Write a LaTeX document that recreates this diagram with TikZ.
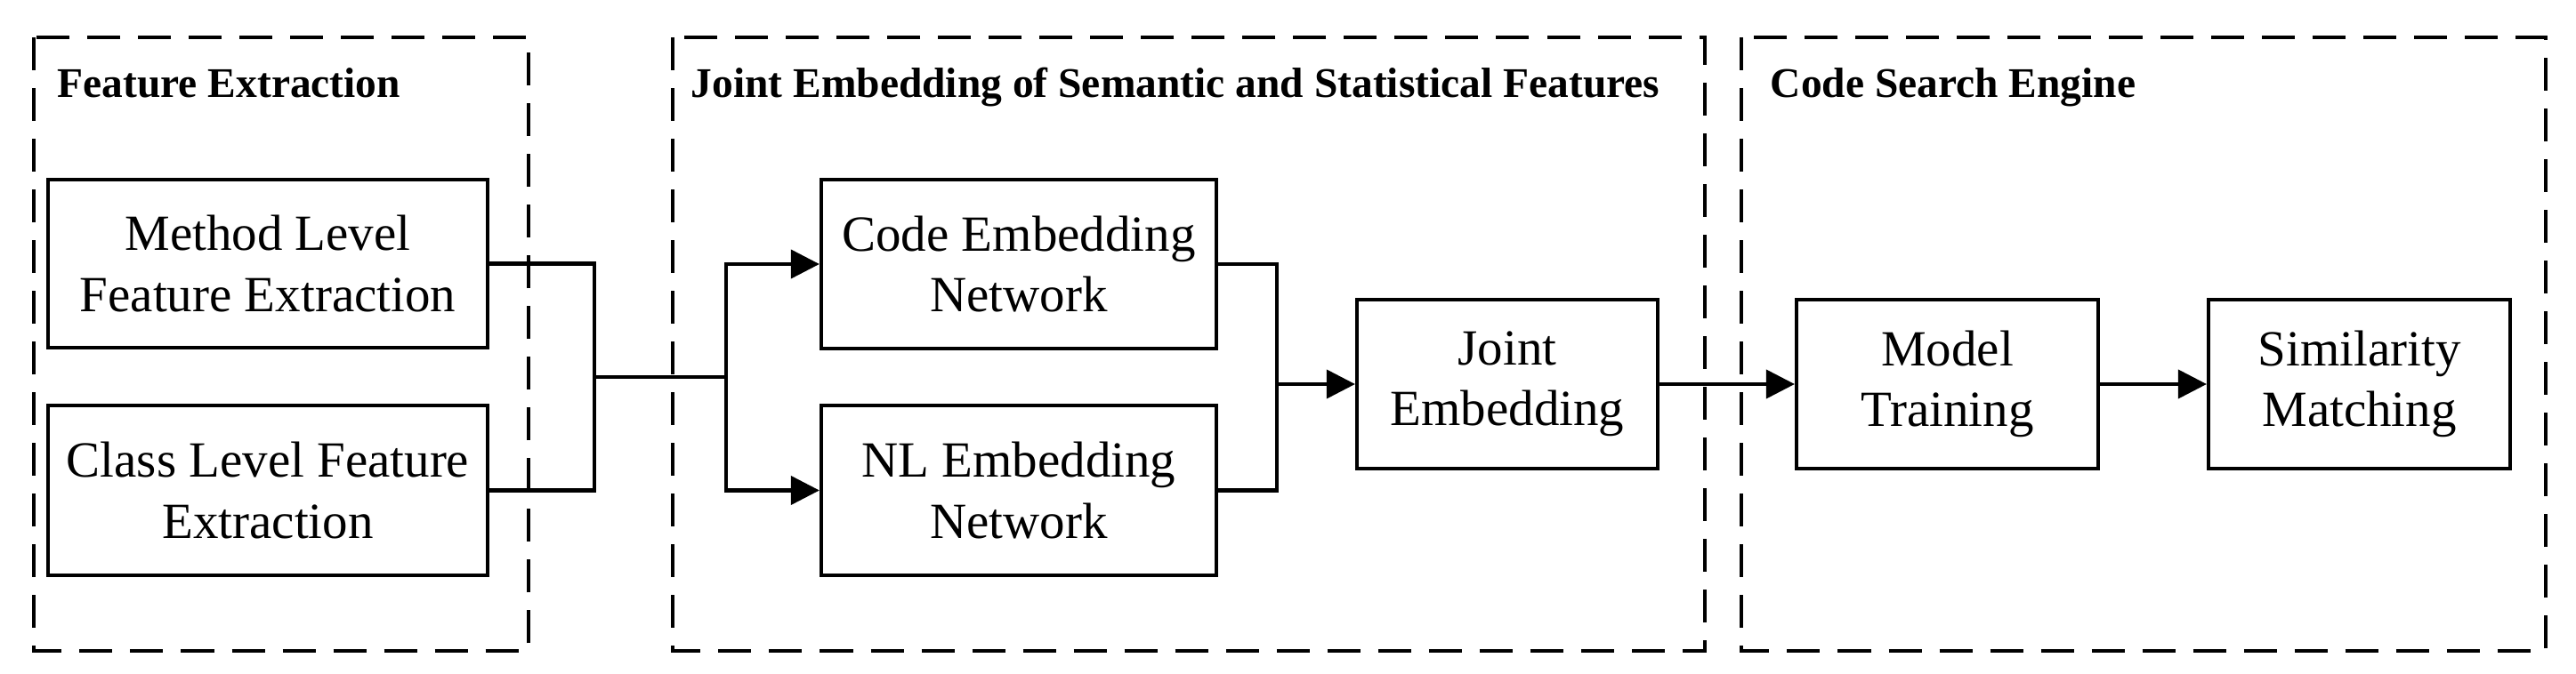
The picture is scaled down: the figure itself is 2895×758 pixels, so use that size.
\documentclass[tikz,border=0pt]{standalone}
\usepackage{fontspec}
\setmainfont{Liberation Serif}
\usetikzlibrary{arrows.meta}
\begin{document}
\begin{tikzpicture}[x=0.01cm,y=-0.01cm,
  box/.style={draw,line width=1.15pt,inner sep=0pt,align=center,
    font=\fontsize{16.2}{19.4}\selectfont},
  group/.style={draw,line width=1.15pt,dash pattern=on 0.37cm off 0.20cm},
  gtitle/.style={anchor=base west,inner sep=0pt,font=\fontsize{13.5}{16}\selectfont\bfseries},
  conn/.style={line width=1.15pt},
  arr/.style={conn,-{Triangle[length=0.32cm,width=0.32cm]}}]
\useasboundingbox (0,0) rectangle (2895,758);
% groups
\draw[group] (38,42) rectangle (594,732);
\draw[group] (756,42) rectangle (1916,732);
\draw[group] (1957,42) rectangle (2861,732);
\node[gtitle] (t1) at (64,110) {Feature Extraction};
\node[gtitle] (t2) at (776,110) {Joint Embedding of Semantic and Statistical Features};
\node[gtitle] (t3) at (1989,110) {Code Search Engine};
% boxes
\node[box,minimum width=4.94cm,minimum height=1.89cm] (method) at (301,296.5) {Method Level\\Feature Extraction};
\node[box,minimum width=4.94cm,minimum height=1.91cm] (class) at (301,551.5) {Class Level Feature\\Extraction};
\node[box,minimum width=4.44cm,minimum height=1.90cm] (code) at (1145,297) {Code Embedding\\Network};
\node[box,minimum width=4.44cm,minimum height=1.91cm] (nl) at (1145,551.5) {NL Embedding\\Network};
\node[box,minimum width=3.38cm,minimum height=1.90cm] (joint) at (1694,432) {Joint\\Embedding};
\node[box,minimum width=3.39cm,minimum height=1.90cm] (model) at (2188.5,432) {Model\\Training};
\node[box,minimum width=3.39cm,minimum height=1.90cm] (sim) at (2651.5,432) {Similarity\\Matching};
% junction coordinates
\coordinate (j1) at (668,424);
\coordinate (j2) at (816,424);
\coordinate (j3) at (1435,432);
% connectors
\draw[conn] (method.east) -| (j1) |- (class.east);
\draw[conn] (j1) -- (j2);
\draw[arr] (j2) |- (code.west);
\draw[arr] (j2) |- (nl.west);
\draw[conn] (code.east) -| (j3) |- (nl.east);
\draw[arr] (j3) -- (joint.west);
\draw[arr] (joint.east) -- (model.west);
\draw[arr] (model.east) -- (sim.west);
\end{tikzpicture}
\end{document}
